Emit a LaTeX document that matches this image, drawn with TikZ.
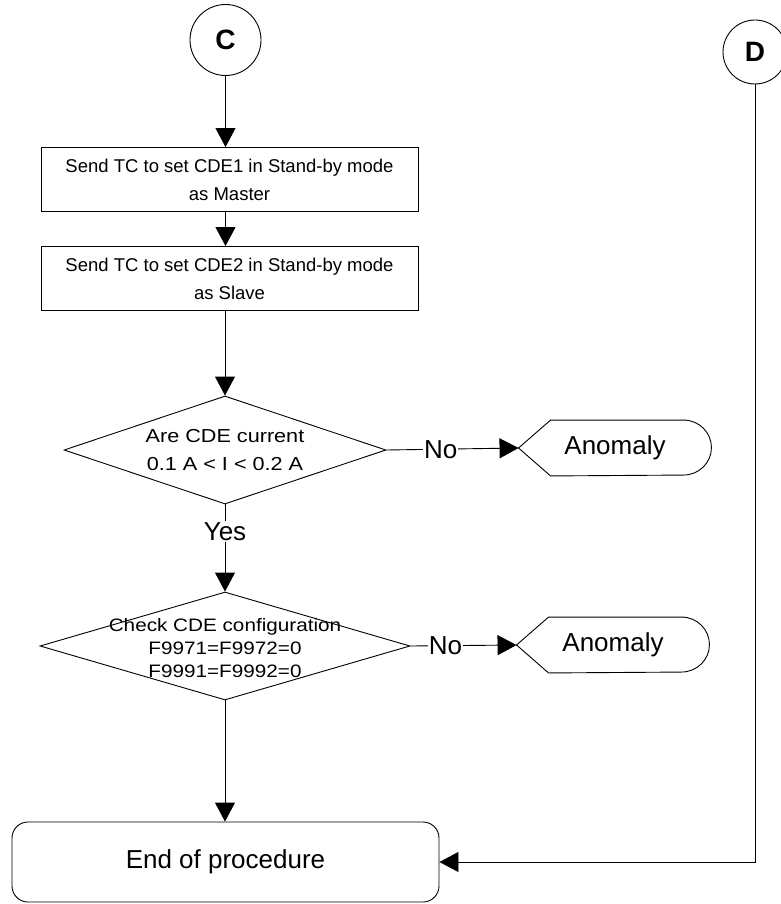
\documentclass[tikz,border=0pt]{standalone}
\usepackage{fontspec}
\setmainfont{Liberation Sans}
% slightly widened face for the text inside the decision diamonds
\newfontfamily\widefont[FakeStretch=1.15]{Liberation Sans}
\usetikzlibrary{arrows.meta,shapes.geometric,calc}

% outline of an "Anomaly" display box: pointed left end, rounded right end
\newcommand\outcomeoutline[1]{%
  \draw (#1.west) -- ([xshift=32pt]#1.north west)
        -- ([xshift=-28pt]#1.north east)
        arc[start angle=90,end angle=-90,x radius=28pt,y radius=27.5pt]
        -- ([xshift=32pt]#1.south west) -- cycle;}

\begin{document}
\begin{tikzpicture}[x=1pt,y=-1pt,line width=0.9pt,
  arr/.style={-{Triangle[length=19pt,width=20pt]}},
  connector/.style={circle,draw,inner sep=0pt,font=\fontsize{28}{30}\selectfont\bfseries},
  stepbox/.style={rectangle,draw,minimum width=377pt,minimum height=64pt,
    inner sep=0pt,align=center,font=\fontsize{18.5}{28}\selectfont},
  decision/.style={diamond,draw,inner sep=0pt,aspect=3},
  answer/.style={fill=white,inner sep=1pt,font=\fontsize{26}{28}\selectfont},
  outcome/.style={rectangle,minimum width=192pt,minimum height=55pt,inner sep=0pt,
    font=\fontsize{26}{28}\selectfont},
  terminal/.style={rectangle,draw,rounded corners=16pt,minimum width=427pt,
    minimum height=80pt,font=\fontsize{26}{28}\selectfont}
]
\useasboundingbox (0,0) rectangle (780,904);

% off-page connectors
\node[connector,minimum size=71pt] (C) at (225.5,40) {C};
\node[connector,minimum size=64pt] (D) at (755,52) {D};

% command steps
\node[stepbox] (b1) at (229.5,179.5) {Send TC to set CDE1 in Stand-by mode\\as Master};
\node[stepbox] (b2) at (229.5,278.5) {Send TC to set CDE2 in Stand-by mode\\as Slave};

% checks
\node[decision,minimum width=322pt,minimum height=108pt,
  label={[align=center,font=\widefont\fontsize{18.8}{28}\selectfont]center:{Are CDE current\\0.1 A < I < 0.2 A}}]
  (d1) at (225,450) {};
\node[decision,minimum width=370pt,minimum height=108pt,
  label={[align=center,yshift=-2pt,font=\widefont\fontsize{18}{23}\selectfont]center:{Check CDE configuration\\F9971=F9972=0\\F9991=F9992=0}}]
  (d2) at (225,646) {};

% anomaly outcomes
\node[outcome] (an1) at (615,448) {Anomaly};
\outcomeoutline{an1}
\node[outcome] (an2) at (613,645) {Anomaly};
\outcomeoutline{an2}

% end of the procedure
\node[terminal] (end) at (225.5,862) {End of procedure};

% connectors
\draw[arr] (C.south) -- (C.south |- b1.north);
\draw[arr] (C.south |- b1.south) -- (C.south |- b2.north);
\draw[arr] (d1.north |- b2.south) -- (d1.north);
\draw[arr] (d1.east) -- node[answer,pos=0.41] {No} (an1.west);
\draw[arr] (d1.south) -- node[answer,pos=0.31] {Yes} (d2.north);
\draw[arr] (d2.east) -- node[answer,pos=0.33] {No} (an2.west);
\draw[arr] (d2.south) -- (d2.south |- end.north);
\draw[arr] (D.south) |- (end.east);
\end{tikzpicture}
\end{document}
